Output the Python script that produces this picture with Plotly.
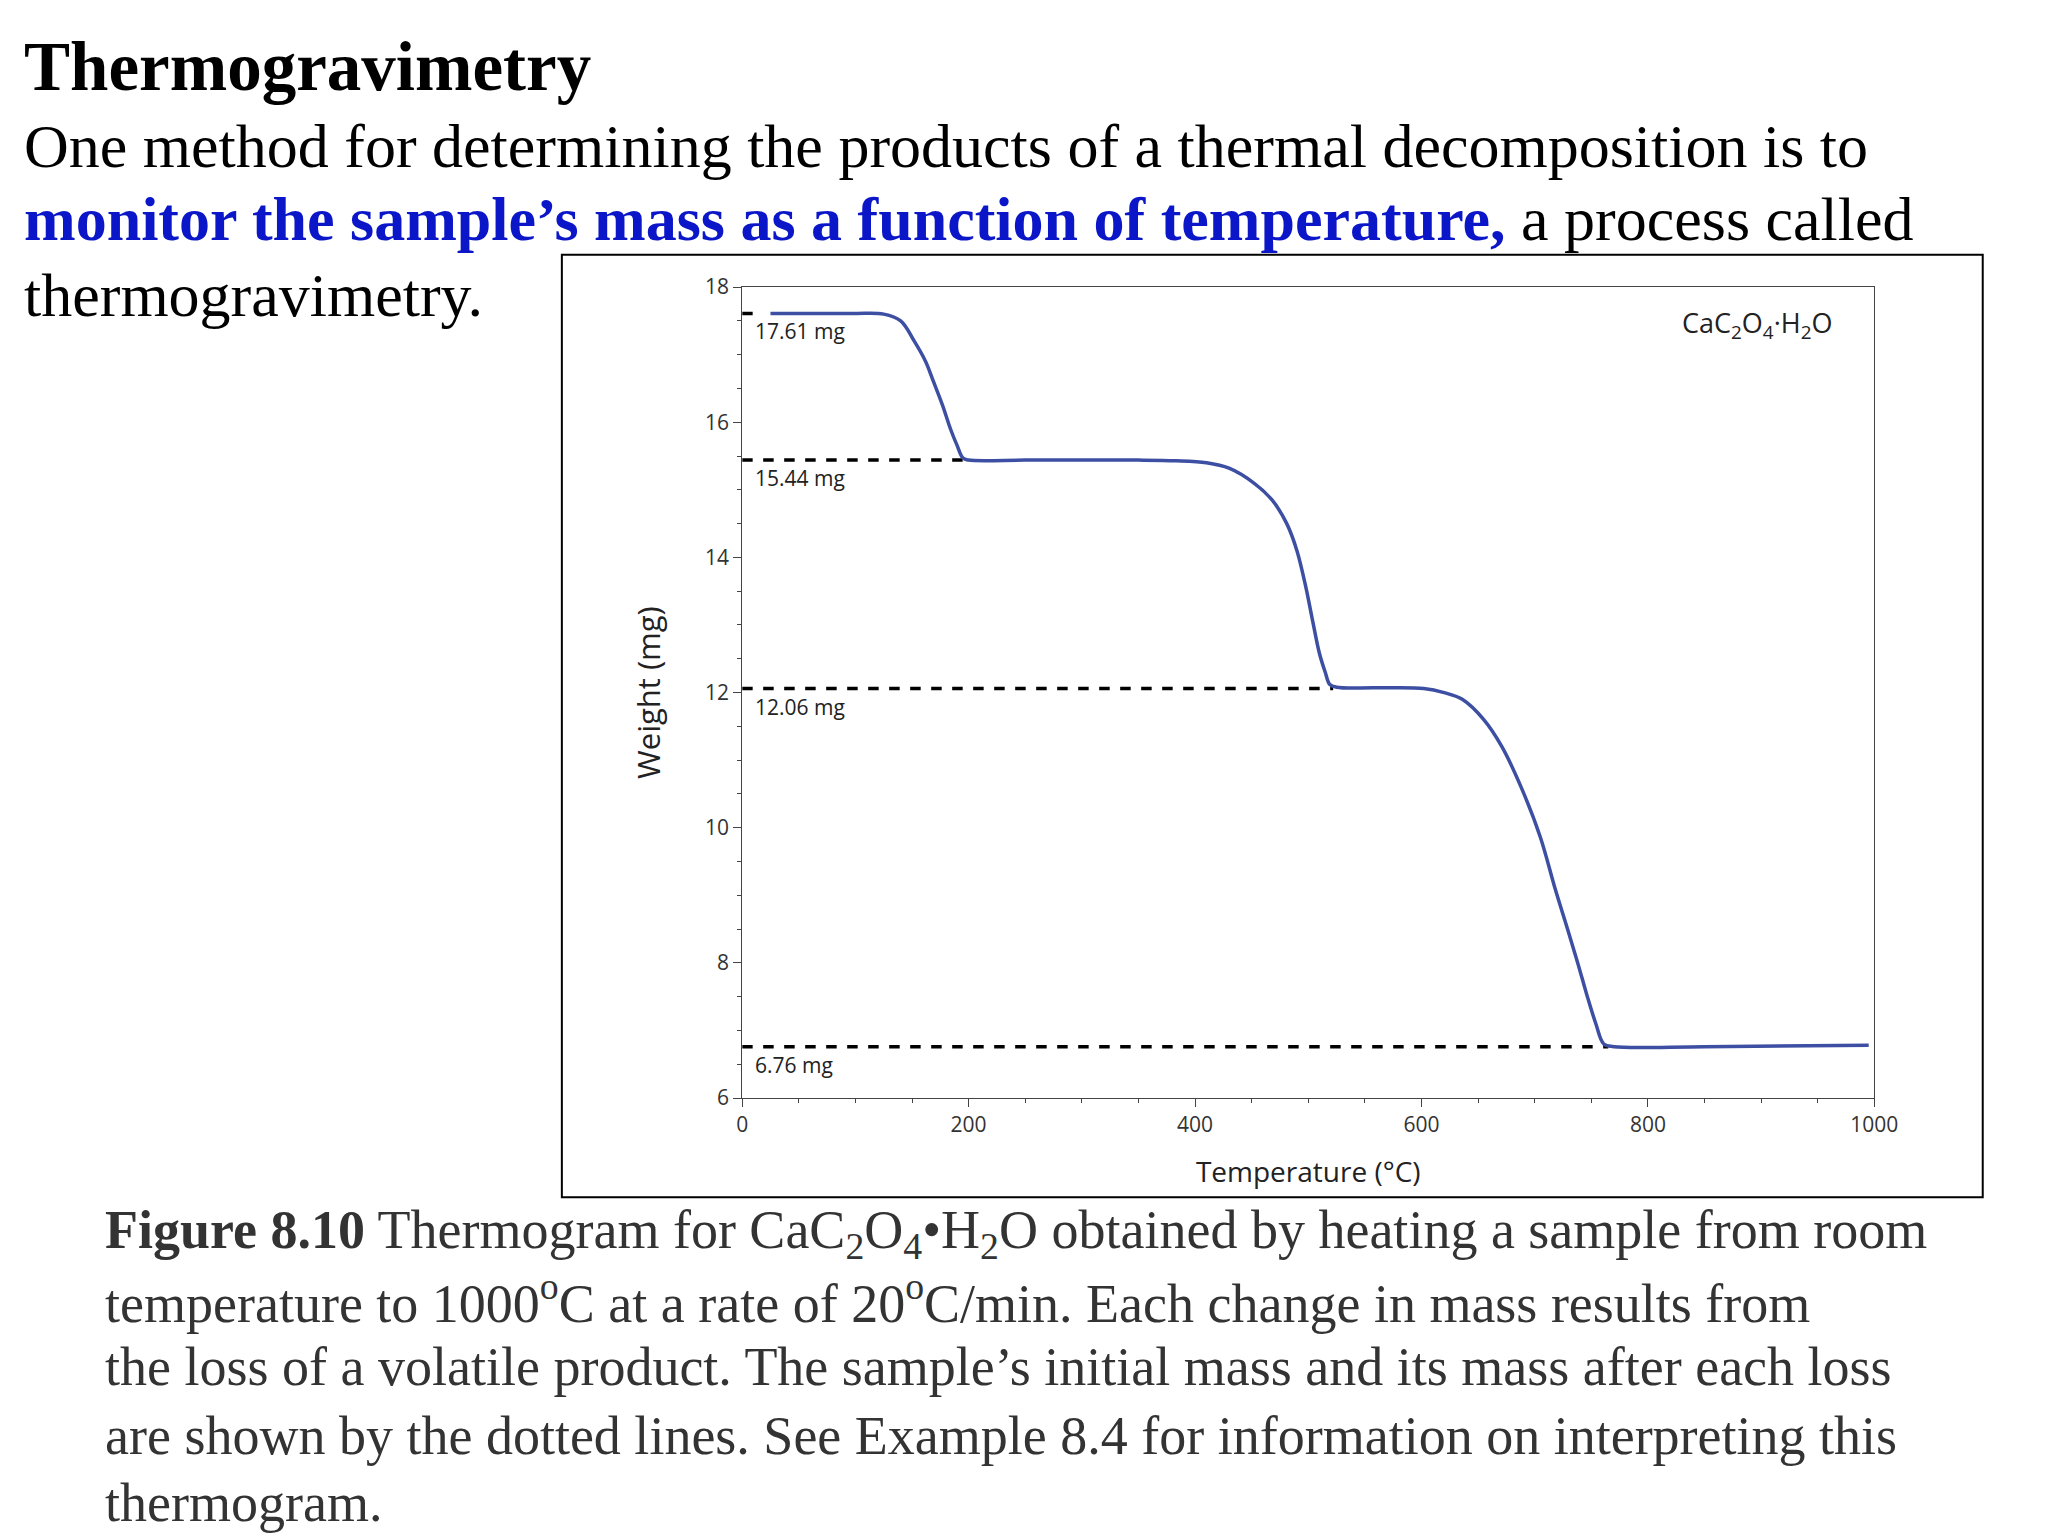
import plotly.graph_objects as go

# thermogram
temp = [25, 60, 100, 125, 140, 152, 162, 169, 177, 184, 190, 195, 200, 250, 300, 350, 383, 410, 430,
        452, 468, 481, 490, 498, 504, 510, 515, 519, 525, 560, 602, 620, 636, 655, 671, 688, 705,
        718, 729, 738, 746, 754, 761, 770, 850, 995]
weight = [17.61, 17.61, 17.61, 17.60, 17.50, 17.20, 16.90, 16.60, 16.25, 15.90, 15.65, 15.47, 15.44,
          15.44, 15.44, 15.44, 15.43, 15.40, 15.32, 15.10, 14.85, 14.50, 14.10, 13.55, 13.05, 12.57,
          12.30, 12.12, 12.08, 12.07, 12.06, 12.00, 11.90, 11.60, 11.20, 10.60, 9.86, 9.10, 8.50,
          8.00, 7.53, 7.10, 6.80, 6.76, 6.76, 6.78]

step_mass = [17.61, 15.44, 12.06, 6.76]
step_end = [18, 200, 522, 765]
step_label = ["17.61 mg", "15.44 mg", "12.06 mg", "6.76 mg"]

W, H = 2048, 1536
px = lambda v: v / W
py = lambda v: 1 - v / H

fig = go.Figure()
for m, e in zip(step_mass, step_end):
    fig.add_trace(go.Scatter(x=[0, e], y=[m, m], mode="lines",
                             line=dict(color="black", width=3.5, dash="dash"),
                             showlegend=False, hoverinfo="skip"))
fig.add_trace(go.Scatter(x=temp, y=weight, mode="lines", line=dict(color="#3d4fa3", width=3.5),
                         line_shape="spline", showlegend=False))

for m, t in zip(step_mass, step_label):
    fig.add_annotation(x=10, y=m, text=t, showarrow=False, xanchor="left", yanchor="top", yshift=-2,
                       font=dict(family="Open Sans", size=21, color="#222"))
fig.add_annotation(x=965, y=17.45, text="CaC<sub>2</sub>O<sub>4</sub>·H<sub>2</sub>O", showarrow=False,
                   xanchor="right", font=dict(family="Open Sans", size=27, color="#222"))

ser = "Liberation Serif"
fig.add_annotation(xref="paper", yref="paper", x=px(8), y=py(45), xanchor="left", yanchor="middle",
                   text="<b>Thermogravimetry</b>", showarrow=False, font=dict(family=ser, size=69, color="black"))
body = ["One method for determining the products of a thermal decomposition is to",
        "<span style='color:#0b16c8'><b>monitor the sample’s mass as a function of temperature,</b></span> a process called",
        "thermogravimetry."]
for yy, line in zip([125, 200, 277], body):
    fig.add_annotation(xref="paper", yref="paper", x=px(8), y=py(yy), xanchor="left", yanchor="middle",
                       text=line, showarrow=False, font=dict(family=ser, size=62, color="black"))

cap = ["<b>Figure 8.10</b> Thermogram for CaC<sub>2</sub>O<sub>4</sub>•H<sub>2</sub>O obtained by heating a sample from room",
       "temperature to 1000<sup>o</sup>C at a rate of 20<sup>o</sup>C/min. Each change in mass results from",
       "the loss of a volatile product. The sample’s initial mass and its mass after each loss",
       "are shown by the dotted lines. See Example 8.4 for information on interpreting this",
       "thermogram."]
for yy, line in zip([1233, 1300, 1369, 1439, 1507], cap):
    fig.add_annotation(xref="paper", yref="paper", x=px(90), y=py(yy), xanchor="left", yanchor="middle",
                       text=line, showarrow=False, font=dict(family=ser, size=54, color="#333"))

fig.add_shape(type="rect", xref="paper", yref="paper", x0=px(556), x1=px(1998),
              y0=py(1196), y1=py(236), line=dict(color="black", width=2))

axfont = dict(family="Open Sans", size=21, color="#333")
fig.update_layout(
    width=W, height=H, margin=dict(l=0, r=0, t=0, b=0),
    plot_bgcolor="white", paper_bgcolor="white",
    xaxis=dict(domain=[px(739), px(1888)], range=[0, 1000], tickvals=[0, 200, 400, 600, 800, 1000],
               ticks="outside", ticklen=8, tickcolor="#444", showline=True, linecolor="#444", mirror=True,
               showgrid=False, zeroline=False, tickfont=axfont,
               minor=dict(dtick=50, ticks="outside", ticklen=4, tickcolor="#444"),
               title=dict(text="Temperature (°C)", font=dict(family="Open Sans", size=28, color="#222"), standoff=25)),
    yaxis=dict(domain=[py(1095), py(269)], range=[6, 18], tickvals=[6, 8, 10, 12, 14, 16, 18],
               ticks="outside", ticklen=8, tickcolor="#444", showline=True, linecolor="#444", mirror=True,
               showgrid=False, zeroline=False, tickfont=axfont,
               minor=dict(dtick=0.5, ticks="outside", ticklen=4, tickcolor="#444"),
               title=dict(text="Weight (mg)", font=dict(family="Open Sans", size=31, color="#222"), standoff=35)),
)

fig.write_html("out.html")
